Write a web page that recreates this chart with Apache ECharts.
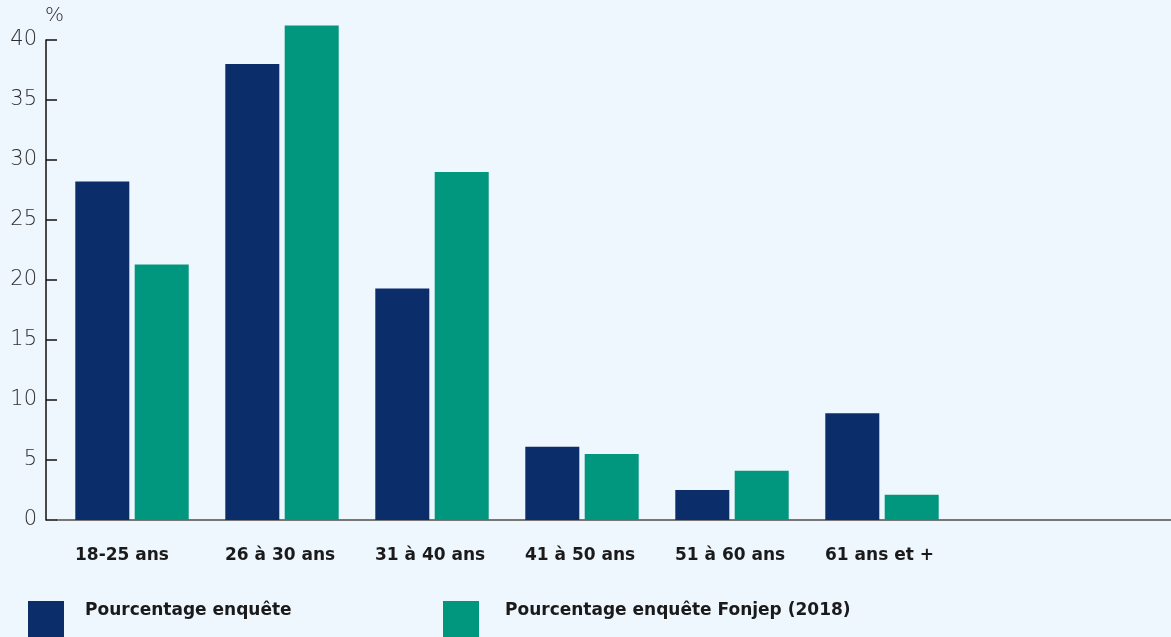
<!DOCTYPE html>
<html>
<head>
<meta charset="utf-8">
<script src="https://cdn.jsdelivr.net/npm/echarts@6/dist/echarts.min.js"></script>
<style>
  html, body { margin: 0; padding: 0; background: #eef6fe; }
  #chart { width: 1171px; height: 637px; }
</style>
</head>
<body>
<div id="chart"></div>
<script>
  // tranches d'âge (les deux dernières cases vides prolongent l'axe)
  const categories = ['18-25 ans', '26 à 30 ans', '31 à 40 ans', '41 à 50 ans', '51 à 60 ans', '61 ans et +', '', '']
  const seriesNames = ['Pourcentage enquête', 'Pourcentage enquête Fonjep (2018)']
  const enquete = [28.2, 38, 19.3, 6.1, 2.5, 8.9]
  const fonjep = [21.3, 41.2, 29, 5.5, 4.1, 2.1]
  const colors = ['#0b2e6a', '#00977e']

  const font = '"DejaVu Sans", sans-serif'
  const chart = echarts.init(document.getElementById('chart'))

  // texte de légende un peu plus haut que le centre du carré
  function legendOf(name, left, gap) {
    return {
      data: [name], left: left, top: 601, padding: 0,
      itemWidth: 36, itemHeight: 36, icon: 'rect',
      formatter: n => '{t|' + n + '}',
      textStyle: {
        rich: {
          t: { fontSize: 17, fontWeight: 'bold', color: '#1a1a1a', fontFamily: font, padding: [0, 0, 16, gap] }
        }
      }
    }
  }

  const option = {
    backgroundColor: '#eef6fe',
    animation: false,
    textStyle: { fontFamily: font },
    grid: { left: 57, width: 1200, top: 40, bottom: 117, outerBoundsMode: 'none' },
    legend: [legendOf(seriesNames[0], 28, 16), legendOf(seriesNames[1], 443, 21)],
    xAxis: {
      type: 'category',
      data: categories,
      axisLine: { lineStyle: { color: '#777', width: 2 } },
      axisTick: { show: false },
      axisLabel: {
        interval: 0,
        margin: 27,
        align: 'center',
        formatter: v => '{a|' + v + '}',
        rich: {
          a: { width: 114, align: 'left', fontSize: 17, fontWeight: 'bold', color: '#1a1a1a', fontFamily: font }
        }
      }
    },
    yAxis: {
      type: 'value',
      min: 0, max: 40, interval: 5,
      offset: 11,
      name: '%',
      nameLocation: 'end',
      nameGap: 14,
      nameTextStyle: { fontSize: 20, color: '#2e2e2e', align: 'left', padding: [0, 0, 0, -1], fontWeight: 200 },
      axisLine: { show: true, lineStyle: { color: '#111', width: 1.5 } },
      axisTick: { show: true, inside: true, length: 11, lineStyle: { color: '#111', width: 1.5 } },
      axisLabel: { fontSize: 21, color: '#2e2e2e', margin: 9, fontWeight: 200 },
      splitLine: { show: false }
    },
    series: [
      { name: seriesNames[0], type: 'bar', data: enquete, barWidth: 54, barGap: '10%', clip: false, itemStyle: { color: colors[0] } },
      { name: seriesNames[1], type: 'bar', data: fonjep, barWidth: 54, barGap: '10%', clip: false, itemStyle: { color: colors[1] } }
    ]
  }
  chart.setOption(option)
</script>
</body>
</html>
